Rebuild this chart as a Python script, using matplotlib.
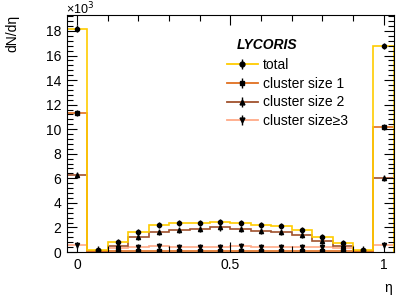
import numpy as np
import matplotlib.pyplot as plt
from matplotlib.lines import Line2D
from matplotlib.ticker import MultipleLocator

plt.rcParams['font.family'] = ['Liberation Sans', 'DejaVu Sans']

# eta bins (centres at k/15), values in units of 10^3
eta = np.arange(16) / 15.0
total = [18.2, 0.2, 0.8, 1.6, 2.2, 2.35, 2.35, 2.45, 2.35, 2.2, 2.1, 1.8, 1.25, 0.7, 0.2, 16.8]
size1 = [11.3, 0.1, 0.05, 0.05, 0.05, 0.05, 0.05, 0.05, 0.05, 0.05, 0.05, 0.05, 0.05, 0.05, 0.1, 10.2]
size2 = [6.3, 0.05, 0.5, 1.2, 1.6, 1.8, 1.9, 2.0, 1.9, 1.7, 1.65, 1.4, 0.9, 0.45, 0.08, 6.0]
size3 = [0.6, 0.05, 0.3, 0.4, 0.45, 0.4, 0.4, 0.4, 0.45, 0.4, 0.4, 0.4, 0.4, 0.35, 0.05, 0.55]
err = 0.25

labels = ['total', 'cluster size 1', 'cluster size 2', 'cluster size\u22653']
colors = ['#ffcc00', '#e07020', '#a0522d', '#ffaa88']
markers = ['o', 's', '^', 'v']
series = [total, size1, size2, size3]

fig = plt.figure(figsize=(4.15, 3.0), dpi=100)
ax = fig.add_axes([0.1614, 0.16, 0.7876, 0.79])

w = eta[1] - eta[0]
edges = np.append(eta - w / 2, eta[-1] + w / 2)

handles = []
for vals, c in zip(series[::-1], colors[::-1]):
    ax.stairs(vals, edges, color=c, lw=1.2)
for vals, c, m in zip(series, colors, markers):
    ax.errorbar(eta, vals, yerr=err, fmt=m, color='k', ms=3, elinewidth=1, capsize=0)
    h1 = Line2D([], [], color=c, lw=1.3)
    h2 = Line2D([], [], color='k', marker=m, ls='none', ms=3.5)
    h3 = Line2D([], [], color='k', marker='|', ls='none', ms=7, mew=1)
    handles.append((h1, h3, h2))

ax.set_xlim(-1 / 30, 1 + 1 / 30)
ax.set_ylim(0, 19.3)
ax.xaxis.set_minor_locator(MultipleLocator(0.1))
ax.yaxis.set_major_locator(MultipleLocator(2))
ax.yaxis.set_minor_locator(MultipleLocator(0.4))
ax.set_xticks([0, 0.5, 1])
ax.set_xticklabels(['0', '0.5', '1'])
ax.tick_params(which='both', direction='in', top=True, right=True, labelsize=10)
ax.tick_params(which='major', length=7, width=0.8)
ax.tick_params(which='minor', length=4, width=0.8)
ax.tick_params(axis='both', pad=4)

fig.text(0.158, 0.997, '\u00d710$^3$', fontsize=9, ha='left', va='top')
fig.text(0.03, 0.95, 'dN/d\u03b7', rotation=90, fontsize=10, ha='center', va='top')
fig.text(0.935, 0.04, '\u03b7', fontsize=10, ha='center', va='center')
fig.text(0.571, 0.85, 'LYCORIS', fontsize=10, fontweight='bold', fontstyle='italic', ha='left', va='center')

ax.legend(handles, labels, loc='upper left', bbox_to_anchor=(0.49, 0.82), frameon=False,
          fontsize=10, handlelength=2.2, handletextpad=0.4, labelspacing=0.35,
          borderaxespad=0, borderpad=0)

fig.savefig('out.png', dpi=100)
